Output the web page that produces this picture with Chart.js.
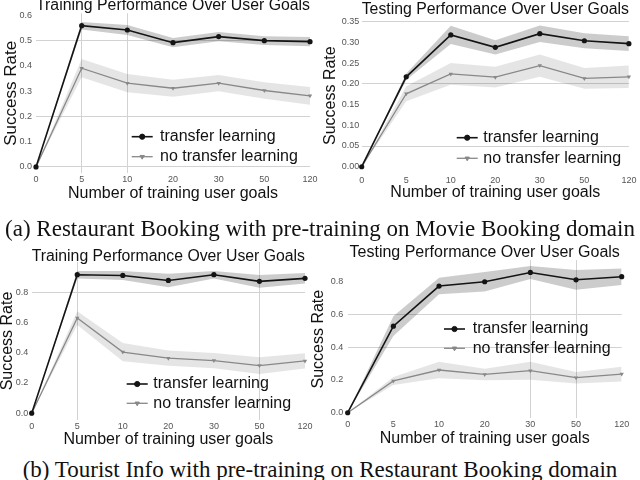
<!DOCTYPE html>
<html>
<head>
<meta charset="utf-8">
<script src="https://cdn.jsdelivr.net/npm/chart.js@4.4.0/dist/chart.umd.min.js"></script>
<style>
  body { margin: 0; width: 640px; height: 480px; overflow: hidden; background: #fff; position: relative; }
  canvas { position: absolute; }
  .cap { position: absolute; left: 0; width: 640px; text-align: center; white-space: nowrap;
         font: 23px "Liberation Serif", "Times New Roman", serif; line-height: 23px; color: #111; }
</style>
</head>
<body>
<canvas id="rbTrain" width="320" height="210" style="left:0;top:0"></canvas>
<canvas id="rbTest" width="320" height="210" style="left:320px;top:0"></canvas>
<canvas id="tiTrain" width="320" height="210" style="left:0;top:245px"></canvas>
<canvas id="tiTest" width="335" height="215" style="left:305px;top:240px"></canvas>
<div class="cap" style="top:217px">(a) Restaurant Booking with pre-training on Movie Booking domain</div>
<div class="cap" style="top:458px">(b) Tourist Info with pre-training on Restaurant Booking domain</div>
<script>
// x categories: number of training user goals
const goals = ['0', '5', '10', '20', '30', '50', '120'];
const seriesNames = ['transfer learning', 'no transfer learning'];

// (a) restaurant booking - training
const rbTrainTransfer = [0, 0.558, 0.541, 0.491, 0.515, 0.499, 0.495];
const rbTrainTransferErr = [0, 0.015, 0.020, 0.018, 0.018, 0.017, 0.018];
const rbTrainNoTransfer = [0, 0.390, 0.331, 0.311, 0.331, 0.302, 0.281];
const rbTrainNoTransferErr = [0, 0.036, 0.036, 0.034, 0.032, 0.033, 0.035];

// (a) restaurant booking - testing
const rbTestTransfer = [0, 0.217, 0.318, 0.288, 0.321, 0.304, 0.297];
const rbTestTransferErr = [0, 0.008, 0.022, 0.017, 0.020, 0.018, 0.018];
const rbTestNoTransfer = [0, 0.176, 0.224, 0.216, 0.244, 0.213, 0.217];
const rbTestNoTransferErr = [0, 0.018, 0.026, 0.025, 0.027, 0.025, 0.027];

// (b) tourist info - training
const tiTrainTransfer = [0, 0.916, 0.911, 0.878, 0.916, 0.872, 0.892];
const tiTrainTransferErr = [0, 0.025, 0.030, 0.045, 0.025, 0.042, 0.035];
const tiTrainNoTransfer = [0, 0.629, 0.404, 0.364, 0.348, 0.315, 0.346];
const tiTrainNoTransferErr = [0, 0.045, 0.060, 0.050, 0.050, 0.055, 0.050];

// (b) tourist info - testing
const tiTestTransfer = [0, 0.529, 0.774, 0.800, 0.857, 0.812, 0.831];
const tiTestTransferErr = [0, 0.060, 0.050, 0.060, 0.040, 0.060, 0.050];
const tiTestNoTransfer = [0, 0.194, 0.261, 0.234, 0.257, 0.214, 0.236];
const tiTestNoTransferErr = [0, 0.025, 0.050, 0.035, 0.055, 0.035, 0.045];

// y tick labels
const ticksRbTrain = [0, 0.1, 0.2, 0.3, 0.4, 0.5, 0.6];
const ticksRbTest = [0, 0.05, 0.10, 0.15, 0.20, 0.25, 0.30, 0.35];
const ticksTi = [0, 0.2, 0.4, 0.6, 0.8];

const SANS = '"Liberation Sans", Arial, sans-serif';
const GRID = '#d2d2d2';

// legend drawn inside the plot, like the matplotlib one
const insideLegend = {
  id: 'insideLegend',
  afterDatasetsDraw(chart, args, opts) {
    const {ctx, chartArea} = chart;
    const items = chart.data.datasets.filter(d => d.inLegend);
    ctx.save();
    ctx.font = '16px ' + SANS;
    ctx.textBaseline = 'middle';
    items.forEach((d, i) => {
      const x = chartArea.left + opts.x;
      const y = chartArea.top + opts.y + i * opts.gap;
      ctx.strokeStyle = d.borderColor;
      ctx.lineWidth = d.borderWidth;
      ctx.beginPath();
      ctx.moveTo(x, y);
      ctx.lineTo(x + 21, y);
      ctx.stroke();
      ctx.fillStyle = d.pointBackgroundColor;
      ctx.lineWidth = 1;
      Chart.helpers.drawPoint(ctx, {
        pointStyle: d.pointStyle, radius: d.pointRadius,
        rotation: d.pointRotation || 0, borderWidth: 1
      }, x + 10.5, y);
      ctx.fillStyle = '#111';
      ctx.fillText(d.label, x + opts.textGap, y);
    });
    ctx.restore();
  }
};

function band(vals, errs, sign) {
  return vals.map((v, i) => v + sign * errs[i]);
}

function makeChart(id, c) {
  const datasets = [
    {
      label: seriesNames[0], data: c.transfer, inLegend: true,
      borderColor: '#141414', borderWidth: 1.6, pointStyle: 'circle', pointRadius: 2.6,
      pointBackgroundColor: '#141414', pointBorderColor: '#141414', pointBorderWidth: 0,
      fill: false, clip: false, tension: 0
    },
    {
      label: seriesNames[1], data: c.noTransfer, inLegend: true,
      borderColor: '#888888', borderWidth: 1.3, pointStyle: 'triangle', pointRotation: 180,
      pointRadius: 2.5, pointBackgroundColor: '#888888', pointBorderColor: '#888888', pointBorderWidth: 0,
      fill: false, clip: false, tension: 0
    },
    { data: band(c.transfer, c.transferErr, 1), borderWidth: 0, pointRadius: 0, fill: false },
    { data: band(c.transfer, c.transferErr, -1), borderWidth: 0, pointRadius: 0,
      fill: '-1', backgroundColor: 'rgba(0,0,0,0.2)' },
    { data: band(c.noTransfer, c.noTransferErr, 1), borderWidth: 0, pointRadius: 0, fill: false },
    { data: band(c.noTransfer, c.noTransferErr, -1), borderWidth: 0, pointRadius: 0,
      fill: '-1', backgroundColor: 'rgba(0,0,0,0.1)' }
  ];
  const H = document.getElementById(id).height;

  return new Chart(document.getElementById(id), {
    type: 'line',
    data: { labels: goals, datasets: datasets },
    plugins: [insideLegend],
    options: {
      responsive: false,
      animation: false,
      layout: { padding: { left: 0, top: 0, bottom: 0, right: c.padRight } },
      plugins: {
        legend: { display: false },
        tooltip: { enabled: false },
        title: {
          display: true, text: c.title, fullSize: false, color: '#111',
          font: { family: SANS, size: 16, weight: 'normal', lineHeight: c.titleLH / 16 },
          padding: { top: c.titleTop, bottom: c.titleBottom }
        },
        insideLegend: c.legend
      },
      scales: {
        x: {
          type: 'category',
          offset: false,
          border: { display: false },
          grid: {
            drawTicks: false, lineWidth: 1,
            color: ctx => c.xGrid.includes(ctx.index) ? GRID : 'rgba(0,0,0,0)'
          },
          ticks: { color: '#555', padding: c.xTickPad, maxRotation: 0, autoSkip: false,
                   font: { family: SANS, size: 9 } },
          title: {
            display: true, text: 'Number of training user goals', color: '#111',
            font: { family: SANS, size: 16, lineHeight: 1 },
            padding: { top: 0, bottom: c.xTitlePad }
          },
          afterFit: s => { s.height = H - c.areaBottom; }
        },
        y: {
          min: c.yMin, max: c.yMax,
          border: { display: false },
          grid: {
            drawTicks: false, lineWidth: 1,
            color: ctx => ctx.tick && c.yGrid.some(v => Math.abs(v - ctx.tick.value) < 1e-6) ? GRID : 'rgba(0,0,0,0)'
          },
          afterBuildTicks: s => { s.ticks = c.yTicks.map(v => ({ value: v })); },
          ticks: {
            color: '#555', padding: c.yTickPad, font: { family: SANS, size: 9 },
            callback: v => Number(v).toFixed(c.decimals)
          },
          title: {
            display: true, text: 'Success Rate', color: '#111',
            font: { family: SANS, size: c.yTitleSize, lineHeight: 1 },
            padding: { top: c.yTitlePad, bottom: 0 }
          },
          afterFit: s => { s.width = c.areaLeft; }
        }
      }
    }
  });
}

makeChart('rbTrain', {
  title: 'Training Performance Over User Goals',
  transfer: rbTrainTransfer, transferErr: rbTrainTransferErr,
  noTransfer: rbTrainNoTransfer, noTransferErr: rbTrainNoTransferErr,
  yTicks: ticksRbTrain, decimals: 1, yMin: -0.025, yMax: 0.607,
  areaLeft: 36, areaBottom: 173.3, padRight: 10,
  titleLH: 12, titleTop: 0, titleBottom: 1.3,
  xTickPad: 1.3, xTitlePad: 8.7, yTickPad: 4, yTitlePad: 3, yTitleSize: 17,
  xGrid: [1, 2], yGrid: [0, 0.2, 0.5],
  legend: { x: 95.7, y: 123.4, gap: 20, textGap: 28.3 }
});

makeChart('rbTest', {
  title: 'Testing Performance Over User Goals',
  transfer: rbTestTransfer, transferErr: rbTestTransferErr,
  noTransfer: rbTestNoTransfer, noTransferErr: rbTestNoTransferErr,
  yTicks: ticksRbTest, decimals: 2, yMin: -0.012, yMax: 0.355,
  areaLeft: 41.7, areaBottom: 171.7, padRight: 10,
  titleLH: 12, titleTop: 4, titleBottom: 3.6,
  xTickPad: 3.6, xTitlePad: 9, yTickPad: 2.5, yTitlePad: 3, yTitleSize: 16,
  xGrid: [], yGrid: [0.05, 0.2, 0.35],
  legend: { x: 95, y: 118.1, gap: 20.6, textGap: 26.6 }
});

makeChart('tiTrain', {
  title: 'Training Performance Over User Goals',
  transfer: tiTrainTransfer, transferErr: tiTrainTransferErr,
  noTransfer: tiTrainNoTransfer, noTransferErr: tiTrainNoTransferErr,
  yTicks: ticksTi, decimals: 1, yMin: -0.045, yMax: 1.0,
  areaLeft: 31.7, areaBottom: 175, padRight: 15,
  titleLH: 8, titleTop: 8, titleBottom: 1,
  xTickPad: 1.3, xTitlePad: 7.7, yTickPad: 3.4, yTitlePad: 0, yTitleSize: 16,
  xGrid: [1, 5], yGrid: [0.8],
  legend: { x: 95, y: 122, gap: 19.3, textGap: 26.6 }
});

makeChart('tiTest', {
  title: 'Testing Performance Over User Goals',
  transfer: tiTestTransfer, transferErr: tiTestTransferErr,
  noTransfer: tiTestNoTransfer, noTransferErr: tiTestNoTransferErr,
  yTicks: ticksTi, decimals: 1, yMin: -0.034, yMax: 0.933,
  areaLeft: 42.7, areaBottom: 178.3, padRight: 18.3,
  titleLH: 12, titleTop: 6.5, titleBottom: 1.5,
  xTickPad: 1.3, xTitlePad: 8.7, yTickPad: 4.4, yTitlePad: 6, yTitleSize: 16,
  xGrid: [4, 5], yGrid: [0.4, 0.6],
  legend: { x: 96.3, y: 69, gap: 19.3, textGap: 28.7 }
});
</script>
</body>
</html>
